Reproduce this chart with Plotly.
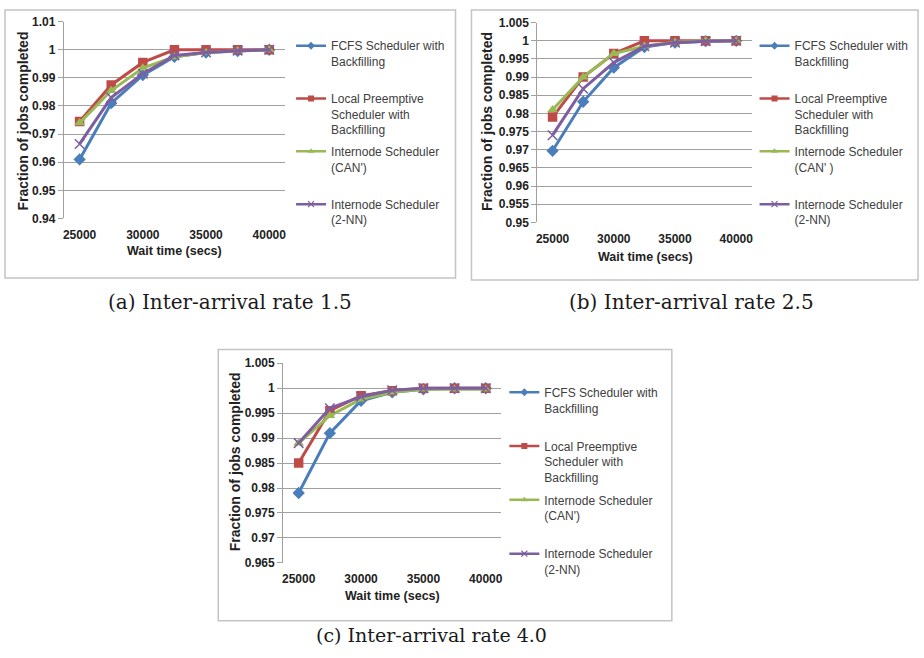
import plotly.graph_objects as go

# ---------------- data ----------------
wait_times = [25000, 27500, 30000, 32500, 35000, 37500, 40000]
x_tick_vals = [25000, 30000, 35000, 40000]
x_tick_text = ["25000", "30000", "35000", "40000"]

series_names = [
    "FCFS Scheduler with<br>Backfilling<br> ",
    "Local Preemptive<br>Scheduler with<br>Backfilling",
    "Internode Scheduler<br>(CAN')<br> ",
    "Internode Scheduler<br>(2-NN)",
]
series_names_b = [
    "FCFS Scheduler with<br>Backfilling<br> ",
    "Local Preemptive<br>Scheduler with<br>Backfilling",
    "Internode Scheduler<br>(CAN' )<br> ",
    "Internode Scheduler<br>(2-NN)",
]

# panel (a) inter-arrival rate 1.5
a_fcfs = [0.961, 0.981, 0.991, 0.9975, 0.999, 0.9995, 1.0]
a_local = [0.9745, 0.9875, 0.9955, 1.0, 1.0, 1.0, 1.0]
a_can = [0.974, 0.9855, 0.9935, 0.9975, 0.999, 0.9997, 1.0]
a_2nn = [0.9665, 0.983, 0.9915, 0.998, 0.999, 0.9997, 1.0]
a_ytick_vals = [0.94, 0.95, 0.96, 0.97, 0.98, 0.99, 1.0, 1.01]
a_ytick_text = ["0.94", "0.95", "0.96", "0.97", "0.98", "0.99", "1", "1.01"]

# panel (b) inter-arrival rate 2.5
b_fcfs = [0.9697, 0.9832, 0.9926, 0.9983, 0.9995, 0.9999, 1.0]
b_local = [0.979, 0.990, 0.9965, 1.0, 1.0, 1.0, 1.0]
b_can = [0.981, 0.990, 0.9965, 0.9985, 0.9996, 1.0, 1.0]
b_2nn = [0.974, 0.9868, 0.994, 0.9985, 0.9995, 0.9999, 1.0]
b_ytick_vals = [0.95, 0.955, 0.96, 0.965, 0.97, 0.975, 0.98, 0.985, 0.99, 0.995, 1.0, 1.005]
b_ytick_text = ["0.95", "0.955", "0.96", "0.965", "0.97", "0.975", "0.98", "0.985",
                "0.99", "0.995", "1", "1.005"]

# panel (c) inter-arrival rate 4.0
c_fcfs = [0.979, 0.991, 0.9975, 0.9992, 0.9998, 1.0, 1.0]
c_local = [0.985, 0.9955, 0.9985, 0.9995, 1.0, 1.0, 1.0]
c_can = [0.989, 0.9945, 0.9978, 0.9992, 0.9998, 0.9998, 0.9998]
c_2nn = [0.989, 0.996, 0.9983, 0.9996, 1.0, 1.0, 1.0]
c_ytick_vals = [0.965, 0.97, 0.975, 0.98, 0.985, 0.99, 0.995, 1.0, 1.005]
c_ytick_text = ["0.965", "0.97", "0.975", "0.98", "0.985", "0.99", "0.995", "1", "1.005"]

captions = ["(a) Inter-arrival rate 1.5", "(b) Inter-arrival rate 2.5", "(c) Inter-arrival rate 4.0"]
x_title = "Wait time (secs)"
y_title = "Fraction of jobs completed"

# ---------------- styling ----------------
W, H = 924, 658
def px(x):
    return x / W
def py(y):
    return 1 - y / H

colors = ["#4A7EBB", "#BE4B48", "#98B954", "#7D5FA0"]
symbols = ["diamond", "square", "triangle-up", "x-thin"]
SANS = "Liberation Sans, Arial, sans-serif"
SERIF = "DejaVu Serif, serif"
GRID = "#A0A0A0"

fig = go.Figure()

panels = [
    dict(data=[a_fcfs, a_local, a_can, a_2nn], names=series_names,
         yv=a_ytick_vals, yt=a_ytick_text, yr=[0.94, 1.01],
         plot=(63, 285, 15, 216), legend=(291, 25), lgap=3,
         xtitle=(174, 249), ytitle=(22, 116),
         box=(4, 456, 3, 277), cap=(230, 301, 20)),
    dict(data=[b_fcfs, b_local, b_can, b_2nn], names=series_names_b,
         yv=b_ytick_vals, yt=b_ytick_text, yr=[0.95, 1.005],
         plot=(538, 753, 16, 220), legend=(756, 25), lgap=3,
         xtitle=(647, 255), ytitle=(487, 117),
         box=(472, 920, 3, 279), cap=(693, 301, 20)),
    dict(data=[c_fcfs, c_local, c_can, c_2nn], names=series_names,
         yv=c_ytick_vals, yt=c_ytick_text, yr=[0.965, 1.005],
         plot=(283, 502, 364, 568), legend=(505, 379), lgap=4,
         xtitle=(393, 602), ytitle=(235, 465),
         box=(218, 673, 350, 627), cap=(432, 642, 19)),
]

annotations = []
shapes = []
layout_axes = {}
for i, p in enumerate(panels):
    n = i + 1
    xa = "x" if n == 1 else f"x{n}"
    ya = "y" if n == 1 else f"y{n}"
    lg = "legend" if n == 1 else f"legend{n}"
    for k in range(4):
        marker = dict(symbol=symbols[k], size=9.5, color=colors[k])
        if k == 3:
            marker["line"] = dict(color=colors[k], width=1.5)
        fig.add_trace(go.Scatter(
            x=wait_times, y=p["data"][k], mode="lines+markers",
            name=p["names"][k], xaxis=xa, yaxis=ya, showlegend=False,
            line=dict(color=colors[k], width=3), marker=marker,
        ))
    # legend entries with smaller symbols, as in the original
    for k in range(4):
        lmarker = dict(symbol=symbols[k], size=6, color=colors[k])
        if k == 3:
            lmarker["line"] = dict(color=colors[k], width=1.2)
        fig.add_trace(go.Scatter(
            x=[None], y=[None], mode="lines+markers", name=p["names"][k],
            xaxis=xa, yaxis=ya, legend=lg, legendgroup=f"{lg}-{k}",
            line=dict(color=colors[k], width=2.5), marker=lmarker,
        ))
    x0, x1, y0, y1 = p["plot"]
    layout_axes["xaxis" if n == 1 else f"xaxis{n}"] = dict(
        domain=[px(x0), px(x1)], anchor=ya, range=[23750, 41250],
        tickvals=x_tick_vals, ticktext=x_tick_text, showgrid=False,
        zeroline=False, showline=False, ticks="outside", ticklen=5,
        tickcolor="rgba(0,0,0,0)",
        tickfont=dict(family=SANS, size=12, color="#222222", weight="bold"),
    )
    layout_axes["yaxis" if n == 1 else f"yaxis{n}"] = dict(
        domain=[py(y1), py(y0)], anchor=xa, range=p["yr"],
        tickvals=p["yv"], ticktext=p["yt"], showgrid=True, gridcolor=GRID,
        gridwidth=1, zeroline=False, showline=True, linecolor=GRID, linewidth=1,
        ticks="outside", ticklen=5, tickcolor=GRID,
        tickfont=dict(family=SANS, size=12, color="#222222", weight="bold"),
    )
    lx, ly = p["legend"]
    layout_axes[lg] = dict(
        x=px(lx), y=py(ly), xanchor="left", yanchor="top", valign="top",
        bgcolor="rgba(0,0,0,0)", borderwidth=0, tracegroupgap=p["lgap"],
        traceorder="grouped", itemwidth=30,
        font=dict(family=SANS, size=12, color="#404040"),
        itemclick=False, itemdoubleclick=False,
    )
    bx0, bx1, by0, by1 = p["box"]
    shapes.append(dict(type="rect", xref="paper", yref="paper",
                       x0=px(bx0), x1=px(bx1), y0=py(by1), y1=py(by0),
                       line=dict(color="#C4C4C4", width=1.5), layer="below"))
    tx, ty = p["xtitle"]
    annotations.append(dict(text=x_title, xref="paper", yref="paper", x=px(tx), y=py(ty),
                            showarrow=False, xanchor="center", yanchor="middle",
                            font=dict(family=SANS, size=12.5, color="#222222", weight="bold")))
    tx, ty = p["ytitle"]
    annotations.append(dict(text=y_title, xref="paper", yref="paper", x=px(tx), y=py(ty),
                            showarrow=False, xanchor="center", yanchor="middle", textangle=-90,
                            font=dict(family=SANS, size=14, color="#222222", weight="bold")))
    cx, cy, cs = p["cap"]
    annotations.append(dict(text=captions[i], xref="paper", yref="paper", x=px(cx), y=py(cy),
                            showarrow=False, xanchor="center", yanchor="middle",
                            font=dict(family=SERIF, size=cs, color="#1a1a1a")))

fig.update_layout(
    width=W, height=H, margin=dict(l=0, r=0, t=0, b=0),
    paper_bgcolor="white", plot_bgcolor="white",
    showlegend=True, annotations=annotations, shapes=shapes,
    **layout_axes,
)

fig.write_html("out.html")
